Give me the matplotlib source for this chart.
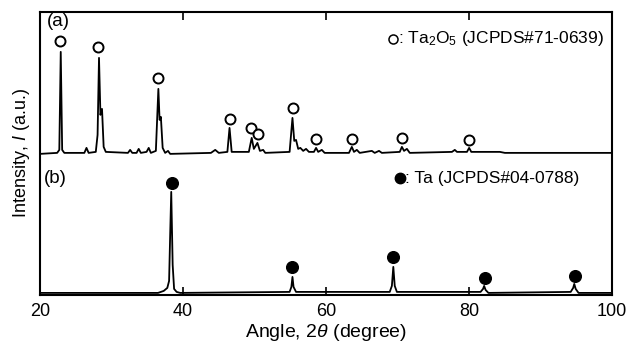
import matplotlib
matplotlib.use("Agg")
import matplotlib.pyplot as plt

plt.rcParams['font.family'] = ['Liberation Sans', 'DejaVu Sans']
plt.rcParams['mathtext.fontset'] = 'custom'
plt.rcParams['mathtext.rm'] = 'Liberation Sans'
plt.rcParams['mathtext.it'] = 'Liberation Sans:italic'

# (a) Ta2O5 pattern (angle, intensity a.u.)
angle_a = [20.0, 22.4, 22.7, 22.9, 23.1, 23.4, 26.2, 26.5, 26.8, 27.8, 28.05, 28.25, 28.45, 28.67,
           28.9, 29.2, 32.3, 32.6, 32.9, 33.5, 33.8, 34.1, 34.9, 35.2, 35.5, 36.2, 36.55, 36.72,
           36.9, 37.15, 37.5, 37.9, 38.2, 43.9, 44.5, 45.0, 46.2, 46.5, 46.8, 49.2, 49.6, 49.9,
           50.4, 50.75, 51.2, 51.5, 54.9, 55.3, 55.55, 55.8, 56.1, 56.4, 56.8, 57.2, 57.6, 58.3,
           58.6, 58.9, 59.4, 59.8, 63.2, 63.6, 63.9, 64.3, 64.7, 66.4, 66.8, 67.4, 67.8, 70.3,
           70.6, 70.9, 71.3, 71.7, 77.6, 78.0, 78.3, 79.7, 80.0, 80.3, 84.3, 85.0, 100.0]
int_a = [1, 2, 5, 103, 5, 2, 2, 7, 2, 3, 20, 97, 40, 46,
         8, 3, 2, 5, 2, 2, 6, 2, 3, 7, 2, 4, 66, 35,
         38, 7, 2, 4, 1, 2, 5, 2, 3, 27, 3, 3, 17, 6,
         12, 4, 5, 2, 3, 37, 14, 15, 6, 7, 4, 6, 3, 3,
         7, 3, 5, 2, 2, 8, 3, 5, 2, 4, 2, 4, 2, 3,
         8, 4, 6, 2, 3, 5, 3, 3, 7, 3, 3, 2, 2]

# (b) Ta pattern
angle_b = [20.0, 36.5, 37.3, 37.8, 38.05, 38.2, 38.35, 38.55, 38.75, 39.1, 39.6, 54.9, 55.15, 55.3,
           55.45, 55.8, 68.9, 69.2, 69.4, 69.6, 69.9, 81.6, 81.95, 82.1, 82.3, 82.7, 94.2,
           94.55, 94.7, 94.9, 95.3, 100.0]
int_b = [2, 2, 4, 7, 14, 60, 103, 30, 6, 3, 2, 3, 8, 18,
         8, 3, 3, 9, 28, 9, 3, 3, 6, 9, 5, 2, 3,
         7, 11, 6, 2, 2]

# reflection markers
mark_a_x = [22.8, 28.15, 36.5, 46.5, 49.5, 50.5, 55.4, 58.6, 63.6, 70.6, 80.0]
mark_a_y = [114, 108, 77, 36, 27, 21, 47, 16, 16, 17, 15]
mark_b_x = [38.4, 55.3, 69.4, 82.2, 94.8]
mark_b_y = [112, 28, 38, 17, 19]

offset_a = 140

fig = plt.figure(figsize=(6.4, 3.49), dpi=100)
ax = fig.add_axes([0.0625, 0.155, 0.894, 0.811])

ax.plot(angle_a, [v + offset_a for v in int_a], color='black', lw=1.3)
ax.plot(angle_b, int_b, color='black', lw=1.3)
ax.plot(mark_a_x, [v + offset_a for v in mark_a_y], 'o', mfc='white', mec='black',
        mew=1.4, ms=7.2, ls='none')
ax.plot(mark_b_x, mark_b_y, 'o', color='black', ms=8.4, ls='none')

ax.set_xlim(20, 100)
ax.set_ylim(0, 283)
ax.set_xticks([20, 40, 60, 80, 100])
ax.set_yticks([])
ax.tick_params(axis='x', direction='in', top=True, length=6, width=1.2,
               labelsize=13, pad=6)
for s in ax.spines.values():
    s.set_linewidth(1.5)

ax.set_xlabel(r"Angle, 2$\theta$ (degree)", fontsize=14, labelpad=1)
ax.set_ylabel(r"Intensity, $I$ (a.u.)", fontsize=13, labelpad=6)

ax.text(0.012, 0.965, "(a)", transform=ax.transAxes, fontsize=13.5, va='center')
ax.text(0.006, 0.41, "(b)", transform=ax.transAxes, fontsize=13.5, va='center')

ax.plot([0.617], [0.905], 'o', transform=ax.transAxes, mfc='white', mec='black',
        mew=1.1, ms=6.5)
ax.text(0.625, 0.905, r": Ta$_2$O$_5$ (JCPDS#71-0639)", transform=ax.transAxes,
        fontsize=12.5, va='center')
ax.plot([0.63], [0.413], 'o', transform=ax.transAxes, color='black', ms=7.5)
ax.text(0.638, 0.413, ": Ta (JCPDS#04-0788)", transform=ax.transAxes,
        fontsize=12.5, va='center')

plt.savefig("out.png", dpi=100)
